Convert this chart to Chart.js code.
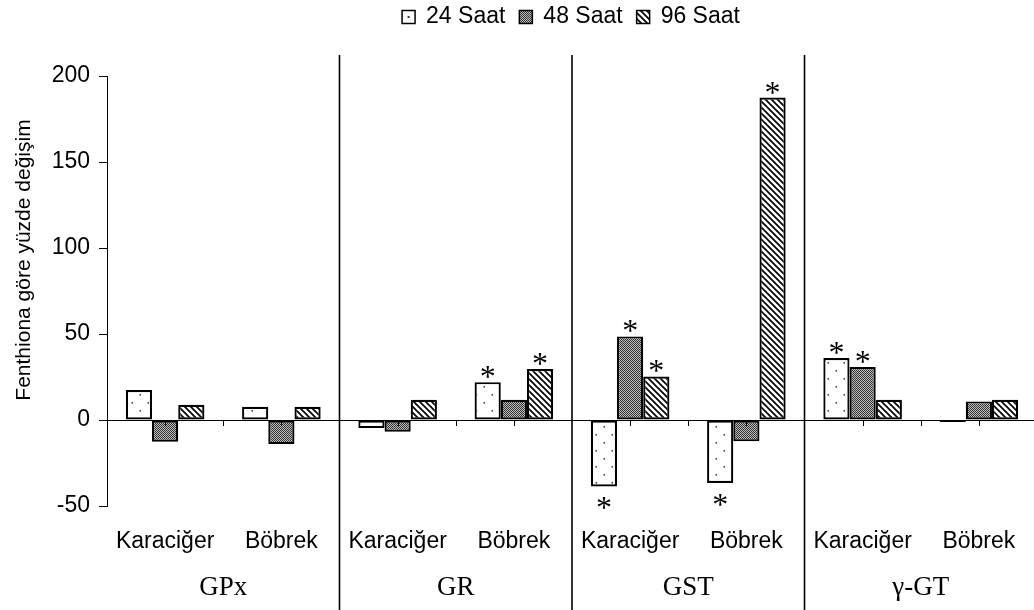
<!DOCTYPE html>
<html><head><meta charset="utf-8">
<script src="https://cdn.jsdelivr.net/npm/chart.js@4/dist/chart.umd.min.js"></script>
<style>html,body{margin:0;padding:0;background:#fff;overflow:hidden;}</style>
</head><body>
<canvas id="c" width="1040" height="610"></canvas>
<script>
const categories = ['Karaciğer','Böbrek','Karaciğer','Böbrek','Karaciğer','Böbrek','Karaciğer','Böbrek'];
const groups = ['GPx','GR','GST','γ-GT'];
const seriesNames = ['24 Saat','48 Saat','96 Saat'];
const saat24 = [17.4, 7.7, -4.7, 22.0, -38.6, -36.6, 36.0, -1.2];
const saat48 = [-12.6, -14.0, -6.8, 11.8, 48.6, -12.4, 30.8, 10.8];
const saat96 = [8.9, 7.7, 11.8, 29.6, 25.3, 187.5, 11.8, 11.8];
const sig24 = [0, 0, 0, 1, 1, 1, 1, 0];
const sig48 = [0, 0, 0, 0, 1, 0, 1, 0];
const sig96 = [0, 0, 0, 1, 1, 1, 0, 0];
const yTicks = [-50, 0, 50, 100, 150, 200];
const yTitle = 'Fenthiona göre yüzde değişim';

const SANS = '"Liberation Sans", Arial, sans-serif';
const SERIF = '"Liberation Serif", "Times New Roman", serif';

function tile(w, h, draw) {
  const c = document.createElement('canvas'); c.width = w; c.height = h;
  const g = c.getContext('2d'); draw(g);
  return document.getElementById('c').getContext('2d').createPattern(c, 'repeat');
}
const dotPat = tile(16, 16, g => {
  g.fillStyle = '#fff'; g.fillRect(0, 0, 16, 16);
  g.fillStyle = '#444';
  g.fillRect(3.5, 2, 1.6, 1.6);
  g.fillRect(11.5, 10, 1.6, 1.6);
});
const checkPat = tile(2, 2, g => {
  g.fillStyle = '#bdbdbd'; g.fillRect(0, 0, 2, 2);
  g.fillStyle = '#333'; g.fillRect(0, 0, 1, 1); g.fillRect(1, 1, 1, 1);
});
const stripePat = tile(6, 6, g => {
  g.fillStyle = '#fff'; g.fillRect(0, 0, 6, 6);
  g.strokeStyle = '#000'; g.lineWidth = 1.7;
  for (const k of [-6, 0, 6]) { g.beginPath(); g.moveTo(k - 1, -1); g.lineTo(k + 7, 7); g.stroke(); }
});
const fills = [dotPat, checkPat, stripePat];
const sigs = [sig24, sig48, sig96];

const overlay = {
  id: 'overlay',
  afterDatasetsDraw(chart) {
    const ctx = chart.ctx, ca = chart.chartArea;
    const xs = chart.scales.x, ys = chart.scales.y;
    const w = (ca.right - ca.left) / categories.length;
    const y0 = ys.getPixelForValue(0);
    ctx.save();
    ctx.strokeStyle = '#000'; ctx.lineWidth = 1;
    for (let i = 0; i < categories.length; i++) {
      const cx = xs.getPixelForValue(i);
      const bx = ca.left + (i + 1) * w;
      ctx.beginPath(); ctx.moveTo(Math.round(cx) + 0.5, y0); ctx.lineTo(Math.round(cx) + 0.5, y0 + 6); ctx.stroke();
      if ((i + 1) % 2 === 1) { ctx.beginPath(); ctx.moveTo(Math.round(bx) + 0.5, y0); ctx.lineTo(Math.round(bx) + 0.5, y0 + 6); ctx.stroke(); }
    }
    ctx.lineWidth = 1.6;
    for (let k = 1; k < groups.length; k++) {
      const bx = ca.left + k * 2 * w;
      ctx.beginPath(); ctx.moveTo(bx, 55); ctx.lineTo(bx, 610); ctx.stroke();
    }
    ctx.fillStyle = '#000';
    ctx.font = '32px ' + SERIF;
    ctx.textAlign = 'center'; ctx.textBaseline = 'alphabetic';
    const m = ctx.measureText('*');
    const midOff = (m.actualBoundingBoxAscent - m.actualBoundingBoxDescent) / 2;
    chart.data.datasets.forEach((ds, di) => {
      const meta = chart.getDatasetMeta(di);
      meta.data.forEach((bar, j) => {
        if (!sigs[di][j]) return;
        const v = ds.data[j];
        const cy = v >= 0 ? bar.y - 10 : bar.y + 17;
        ctx.fillText('*', bar.x, cy + midOff);
      });
    });
    ctx.font = '27px ' + SERIF;
    groups.forEach((gname, k) => {
      const gx = (xs.getPixelForValue(2 * k) + xs.getPixelForValue(2 * k + 1)) / 2;
      ctx.fillText(gname, gx, 595);
    });
    ctx.font = '21px ' + SANS;
    ctx.textBaseline = 'middle';
    ctx.translate(24, 260);
    ctx.rotate(-Math.PI / 2);
    ctx.fillText(yTitle, 0, 0);
    ctx.restore();
    ctx.save();
    ctx.font = '23px ' + SANS;
    ctx.textBaseline = 'middle'; ctx.textAlign = 'left';
    const box = 13, gap = 11, sep = 14;
    let total = 0;
    seriesNames.forEach((s, i) => { total += box + gap + ctx.measureText(s).width + (i < seriesNames.length - 1 ? sep : 0); });
    let lx = 571 - total / 2;
    const ly = 17;
    seriesNames.forEach((s, i) => {
      ctx.fillStyle = i === 0 ? '#fff' : fills[i];
      ctx.fillRect(lx, ly - box / 2, box, box);
      if (i === 0) { ctx.fillStyle = '#333'; ctx.fillRect(lx + box / 2 - 1, ly - 1, 2, 2); }
      ctx.strokeStyle = '#000'; ctx.lineWidth = 1.5;
      ctx.strokeRect(lx, ly - box / 2, box, box);
      ctx.fillStyle = '#000';
      ctx.fillText(s, lx + box + gap, ly);
      lx += box + gap + ctx.measureText(s).width + sep;
    });
    ctx.restore();
  }
};

new Chart(document.getElementById('c'), {
  type: 'bar',
  data: {
    labels: categories,
    datasets: [saat24, saat48, saat96].map((d, i) => ({
      label: seriesNames[i], data: d,
      backgroundColor: fills[i], borderColor: '#000', borderWidth: 2.2, borderSkipped: false,
      categoryPercentage: 0.676, barPercentage: 1
    }))
  },
  options: {
    responsive: false, animation: false,
    layout: { padding: { top: 76, right: 3, bottom: 0, left: 0 } },
    plugins: { legend: { display: false }, tooltip: { enabled: false } },
    scales: {
      x: {
        grid: { display: false, drawTicks: false },
        border: { display: false },
        ticks: { color: '#000', font: { family: SANS, size: 23 }, padding: 22, maxRotation: 0, autoSkip: false },
        afterFit: s => { s.height = 104; }
      },
      y: {
        min: -50, max: 200,
        afterBuildTicks: s => { s.ticks = yTicks.map(v => ({ value: v })); },
        grid: {
          color: c => (c.tick && c.tick.value === 0 ? '#000' : 'rgba(0,0,0,0)'),
          lineWidth: 1, drawTicks: true, tickLength: 8, tickColor: '#000'
        },
        border: { display: true, color: '#000', width: 1 },
        ticks: { color: '#000', font: { family: SANS, size: 23 }, padding: 9 },
        afterFit: s => { s.width = 107; }
      }
    }
  },
  plugins: [overlay]
});
</script>
</body></html>
